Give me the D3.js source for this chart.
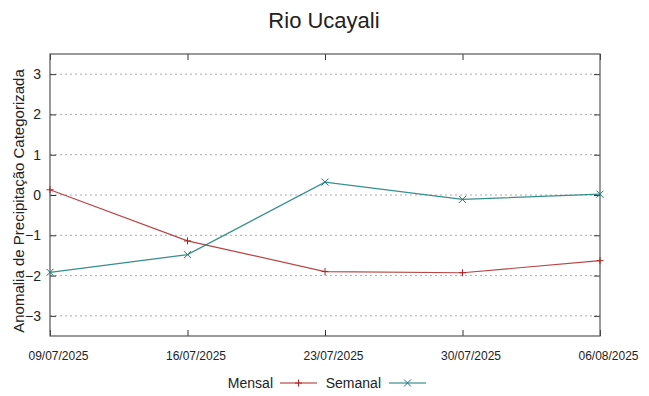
<!DOCTYPE html>
<html>
<head>
<meta charset="utf-8">
<script src="https://d3js.org/d3.v7.min.js"></script>
<style>
  body { margin: 0; background: #fff; }
  text { font-family: "Liberation Sans", Arial, sans-serif; fill: #222; }
</style>
</head>
<body>
<svg width="649" height="396"></svg>
<script>
var dates = ["09/07/2025", "16/07/2025", "23/07/2025", "30/07/2025", "06/08/2025"];
var mensal = [0.13, -1.14, -1.9, -1.93, -1.63];
var semanal = [-1.92, -1.48, 0.32, -0.11, 0.02];
var yTicks = [-3, -2, -1, 0, 1, 2, 3];

var svg = d3.select("svg"),
    margin = {left: 50, right: 49, top: 54, bottom: 60},
    width = +svg.attr("width") - margin.left - margin.right,
    height = +svg.attr("height") - margin.top - margin.bottom;

var x = d3.scalePoint().domain(dates).range([0, width]);
var y = d3.scaleLinear().domain([-3.5, 3.5]).range([height, 0]);

var g = svg.append("g").attr("transform", "translate(" + margin.left + "," + margin.top + ")");

// grid
g.selectAll(".grid").data(yTicks).enter().append("line")
    .attr("x1", 0).attr("x2", width)
    .attr("y1", function(d){ return y(d); }).attr("y2", function(d){ return y(d); })
    .attr("stroke", "#aaa").attr("stroke-width", 1)
    .attr("stroke-dasharray", "2,3");

// axes (ticks inward, mirrored)
var axL = g.append("g").call(d3.axisLeft(y).tickValues(yTicks).tickSize(-6).tickPadding(9).tickFormat(d3.format("d")));
var axR = g.append("g").attr("transform", "translate(" + width + ",0)")
    .call(d3.axisRight(y).tickValues(yTicks).tickSize(-6).tickFormat(""));
var axB = g.append("g").attr("transform", "translate(0," + height + ")")
    .call(d3.axisBottom(x).tickSize(-6).tickPadding(15));
var axT = g.append("g").call(d3.axisTop(x).tickSize(-6).tickFormat(""));

[axL, axR, axB, axT].forEach(function(a){
  a.select(".domain").remove();
  a.selectAll("line").attr("stroke", "#333");
});
axL.selectAll("text").style("font-size", "14px").attr("fill", "#222");
axB.selectAll("text").style("font-size", "12px").attr("fill", "#222").attr("dx", 8);

g.append("rect").attr("width", width).attr("height", height)
    .attr("fill", "none").attr("stroke", "#555").attr("stroke-width", 1.2);

var line = d3.line()
    .x(function(d, i){ return x(dates[i]); })
    .y(function(d){ return y(d); });

var series = [
  {name: "Mensal", values: mensal, color: "#ad2525", mark: "plus"},
  {name: "Semanal", values: semanal, color: "#137b77", mark: "cross"}
];

function marker(sel, type, color) {
  var s = 3.5;
  if (type === "plus") {
    sel.append("path").attr("d", "M" + (-s) + ",0H" + s + "M0," + (-s) + "V" + s);
  } else {
    sel.append("path").attr("d", "M" + (-s) + "," + (-s) + "L" + s + "," + s + "M" + (-s) + "," + s + "L" + s + "," + (-s));
  }
  sel.selectAll("path").attr("stroke", color).attr("stroke-width", 1).attr("fill", "none");
}

series.forEach(function(s){
  g.append("path").datum(s.values)
      .attr("d", line)
      .attr("fill", "none")
      .attr("stroke", s.color)
      .attr("stroke-opacity", 0.85)
      .attr("stroke-width", 1.2);
  g.selectAll(".pt-" + s.name).data(s.values).enter().append("g")
      .attr("transform", function(d, i){ return "translate(" + x(dates[i]) + "," + y(d) + ")"; })
      .each(function(){ marker(d3.select(this), s.mark, s.color); });
});

// title
svg.append("text").attr("x", 324).attr("y", 28).attr("text-anchor", "middle")
    .style("font-size", "22px").text("Rio Ucayali");

// y label
svg.append("text").attr("transform", "translate(24," + (margin.top + height / 2 + 6) + ") rotate(-90)")
    .attr("text-anchor", "middle").style("font-size", "15px")
    .text("Anomalia de Precipitação Categorizada");

// legend
var lg = svg.append("g").attr("transform", "translate(0,383)");
var legendItems = [
  {s: series[0], tx: 273, lx: 280},
  {s: series[1], tx: 381, lx: 389}
];
legendItems.forEach(function(it){
  lg.append("text").attr("x", it.tx).attr("y", 5).attr("text-anchor", "end")
      .style("font-size", "14px").text(it.s.name);
  lg.append("line").attr("x1", it.lx).attr("x2", it.lx + 37).attr("y1", 0).attr("y2", 0)
      .attr("stroke", it.s.color).attr("stroke-width", 1.2);
  var m = lg.append("g").attr("transform", "translate(" + (it.lx + 18.5) + ",0)");
  marker(m, it.s.mark, it.s.color);
});
</script>
</body>
</html>
